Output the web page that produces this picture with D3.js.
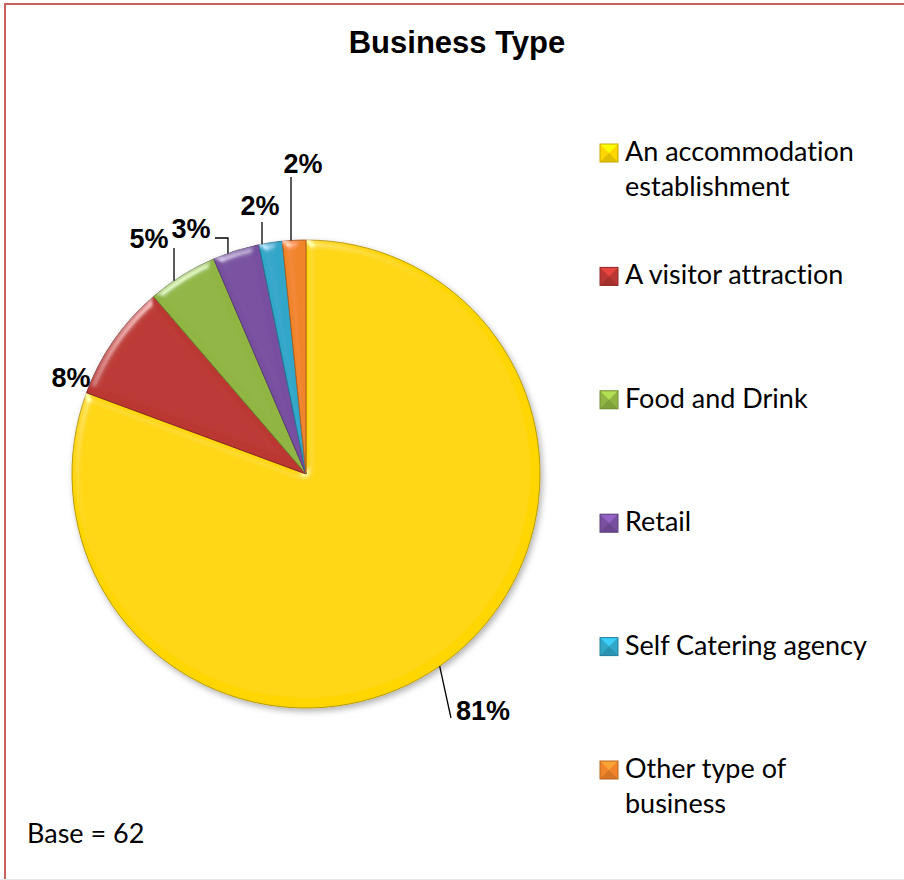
<!DOCTYPE html>
<html>
<head>
<meta charset="utf-8">
<script src="https://cdn.jsdelivr.net/npm/d3@7"></script>
<style>
  html, body { margin: 0; padding: 0; background: #ffffff; }
  svg { display: block; }
  text { font-variant-ligatures: none; font-feature-settings: "liga" 0, "dlig" 0; }
</style>
</head>
<body>
<script>
// Business type breakdown, counts out of a base of 62 respondents
const categories = [
  "An accommodation establishment",
  "A visitor attraction",
  "Food and Drink",
  "Retail",
  "Self Catering agency",
  "Other type of business"
];
const legendLines = [
  ["An accommodation", "establishment"],
  ["A visitor attraction"],
  ["Food and Drink"],
  ["Retail"],
  ["Self Catering agency"],
  ["Other type of", "business"]
];
const counts = [50, 5, 3, 2, 1, 1];
const baseCount = 62;
const titleText = "Business Type";
const sliceColors = ["#FFD600", "#BB3733", "#90B543", "#7850A0", "#30A6C9", "#F0842A"];

const W = 904, H = 880;
const cx = 306, cy = 474, R = 234;

const svg = d3.select("body").append("svg")
  .attr("width", W).attr("height", H);

const defs = svg.append("defs");

// bevel: blurred alpha used as a bump map for a specular highlight
const bevel = defs.append("filter").attr("id", "bevel")
  .attr("x", "-5%").attr("y", "-5%").attr("width", "110%").attr("height", "110%");
bevel.append("feGaussianBlur").attr("in", "SourceAlpha").attr("stdDeviation", 4).attr("result", "blur");
const spec = bevel.append("feSpecularLighting").attr("in", "blur")
  .attr("surfaceScale", 4).attr("specularConstant", 0.9).attr("specularExponent", 40)
  .attr("lighting-color", "#ffffff").attr("result", "spec");
spec.append("feDistantLight").attr("azimuth", 235).attr("elevation", 38);
bevel.append("feComposite").attr("in", "spec").attr("in2", "SourceAlpha").attr("operator", "in").attr("result", "specIn");
bevel.append("feComposite").attr("in", "SourceGraphic").attr("in2", "specIn")
  .attr("operator", "arithmetic").attr("k1", 0).attr("k2", 1).attr("k3", 0.5).attr("k4", 0);

const shadow = defs.append("filter").attr("id", "shadow")
  .attr("x", "-10%").attr("y", "-10%").attr("width", "120%").attr("height", "120%");
shadow.append("feDropShadow").attr("dx", 2).attr("dy", 3).attr("stdDeviation", 3)
  .attr("flood-color", "#000").attr("flood-opacity", 0.3);

// frame
svg.append("rect")
  .attr("x", 5).attr("y", 4).attr("width", W + 10).attr("height", H + 10)
  .attr("fill", "none").attr("stroke", "#C9625F").attr("stroke-width", 2);
svg.append("line")
  .attr("x1", 0).attr("x2", W).attr("y1", 879.5).attr("y2", 879.5)
  .attr("stroke", "#e6e6e6").attr("stroke-width", 1);

// title
svg.append("text")
  .attr("x", 457).attr("y", 53)
  .attr("text-anchor", "middle")
  .attr("font-family", "'Liberation Sans', Arial, sans-serif")
  .attr("font-weight", "bold").attr("font-size", 31)
  .attr("fill", "#000")
  .text(titleText);

// pie
const pie = d3.pie().sort(null).value(d => d)(counts);
const arc = d3.arc().innerRadius(0).outerRadius(R);
const color = d3.scaleOrdinal().domain(categories).range(sliceColors);

const pieG = svg.append("g").attr("transform", `translate(${cx},${cy})`).attr("filter", "url(#shadow)");
pieG.selectAll("path.slice")
  .data(pie)
  .join("path")
  .attr("class", "slice")
  .attr("d", arc)
  .attr("fill", (d, i) => color(categories[i]))
  .attr("stroke", (d, i) => d3.color(color(categories[i])).darker(0.9))
  .attr("stroke-width", 1)
  .attr("stroke-linejoin", "round")
  .attr("filter", "url(#bevel)");

// data labels, placed relative to the pie centre
const pct = counts.map(c => Math.round(c / baseCount * 100) + "%");
const labelLayout = [
  { x: 177, y: 246, leader: "direct", end: [145, 244] },
  { x: -235, y: -87, leader: null },
  { x: -157, y: -226, leader: "vertical", end: [-132, -226] },
  { x: -115, y: -236, leader: "elbow", end: [-91, -236] },
  { x: -46, y: -259, leader: "vertical", end: [-44, -252] },
  { x: -3, y: -301, leader: "vertical", end: [-15, -297] }
];

const labelG = svg.append("g").attr("transform", `translate(${cx},${cy})`);
const line = d3.line();
pie.forEach((d, i) => {
  const L = labelLayout[i];
  const mid = (d.startAngle + d.endAngle) / 2;
  if (L.leader) {
    let pts;
    if (L.leader === "vertical") {
      const ex = L.end[0];
      pts = [[ex, -Math.sqrt(R * R - ex * ex)], L.end];
    } else if (L.leader === "elbow") {
      const sx = R * Math.sin(mid) - 8;
      const start = [sx, -Math.sqrt(R * R - sx * sx)];
      pts = [start, [sx, L.end[1]], L.end];
    } else {
      pts = [[R * Math.sin(mid), -R * Math.cos(mid)], L.end];
    }
    labelG.append("path")
      .attr("d", line(pts))
      .attr("fill", "none").attr("stroke", "#000").attr("stroke-width", 1.3);
  }
  labelG.append("text")
    .attr("x", L.x).attr("y", L.y)
    .attr("text-anchor", "middle")
    .attr("font-family", "'Liberation Sans', Arial, sans-serif")
    .attr("font-weight", "bold").attr("font-size", 27)
    .attr("fill", "#000")
    .text(pct[i]);
});

// legend
const legendY = d3.scalePoint().domain(categories).range([161, 778]);
const legendFont = "Lato, 'Noto Sans', sans-serif";
const legend = svg.append("g");
categories.forEach((c, i) => {
  const y = legendY(c);
  const base = d3.color(color(c));
  const g = legend.append("g").attr("transform", `translate(600,${y - 17})`);
  const s = 18;
  g.append("rect").attr("width", s).attr("height", s).attr("fill", base);
  g.append("path").attr("d", `M0,0L${s},0L${s / 2},${s / 2}Z`).attr("fill", base.brighter(0.6));
  g.append("path").attr("d", `M0,${s}L${s},${s}L${s / 2},${s / 2}Z`).attr("fill", base.darker(0.35));
  g.append("rect").attr("width", s).attr("height", s).attr("fill", "none")
    .attr("stroke", base.darker(0.7)).attr("stroke-width", 1);
  const t = legend.append("text")
    .attr("x", 625).attr("y", y)
    .attr("font-family", legendFont).attr("font-size", 27)
    .attr("fill", "#000");
  legendLines[i].forEach((ln, j) => {
    t.append("tspan").attr("x", 625).attr("dy", j === 0 ? 0 : 35).text(ln);
  });
});

// base note
svg.append("text")
  .attr("x", 27).attr("y", 843)
  .attr("font-family", legendFont).attr("font-size", 27)
  .attr("fill", "#000")
  .text("Base = " + baseCount);
</script>
</body>
</html>
